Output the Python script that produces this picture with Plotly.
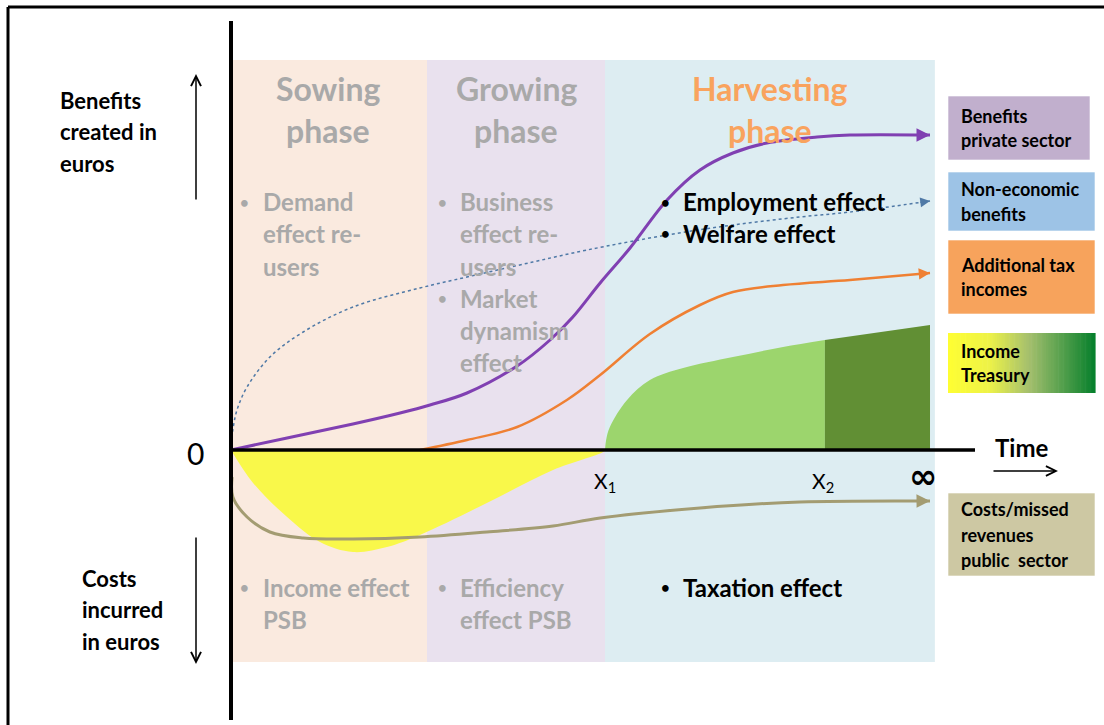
import plotly.graph_objects as go

W, H = 1104, 725

# ---------------- data (time units: X1 = 10 ; value units: euros, arbitrary) ----------------
X1, X2, INF = 10.0, 15.88, 18.69

phase_titles = [["Sowing", "phase"], ["Growing", "phase"], ["Harvesting", "phase"]]
phase_start = [0.0, 5.24, 10.0]
phase_end = [5.24, 10.0, 18.82]
phase_top, phase_bottom = 39.0, -21.2

# Benefits private sector (purple)
private_t = [0, 1.50, 3.26, 4.52, 5.32, 6.31, 7.65, 8.53, 9.14, 9.87, 10.67, 11.66, 12.54, 13.42, 14.33, 15.67, 16.55, 18.69]
private_v = [0, 1.2, 2.6, 3.7, 4.5, 5.7, 8.4, 11.0, 13.3, 16.7, 20.2, 25.0, 28.0, 29.7, 30.7, 31.3, 31.5, 31.5]

# Non-economic benefits (dotted blue)
noneco_t = [0, 0.05, 0.16, 0.43, 1.04, 1.93, 3.26, 5.05, 6.31, 8.07, 9.52, 11.66, 13.42, 15.21, 16.55, 18.69]
noneco_v = [0, 2.0, 4.0, 6.3, 9.3, 11.8, 14.3, 16.2, 17.3, 18.8, 20.0, 21.5, 22.5, 23.3, 23.8, 24.9]

# Additional tax incomes (orange)
tax_t = [5.05, 6.31, 7.65, 8.98, 9.87, 11.20, 12.54, 13.42, 14.76, 16.55, 18.69]
tax_v = [0, 1.0, 2.3, 5.0, 7.5, 11.6, 14.5, 15.8, 16.5, 17.0, 17.7]

# Costs / missed revenues public sector (khaki)
cost_t = [0.03, 0.05, 0.43, 1.04, 1.93, 3.26, 5.05, 6.84, 8.61, 9.87, 12.54, 15.21, 18.69]
cost_v = [-2.7, -4.7, -6.7, -8.2, -8.8, -8.9, -8.7, -8.2, -7.6, -6.8, -5.8, -5.2, -5.1]

# Income treasury: negative part (yellow) and positive part (greens)
yellow_t = [0, 0.59, 1.50, 2.38, 3.26, 4.17, 5.05, 6.84, 8.61, 9.95, 10.0]
yellow_v = [0, -3.3, -6.7, -9.2, -10.2, -9.7, -8.5, -5.3, -2.0, -0.2, 0]
green_t = [10.0, 10.03, 10.13, 10.59, 11.20, 12.09, 13.42, 14.76, 15.88]
green_v = [0, 1.0, 2.3, 5.0, 7.0, 8.2, 9.3, 10.3, 11.0]
dgreen_t = [15.88, 18.69]
dgreen_v = [11.0, 12.5]

legend_labels = [["Benefits", "private sector"], ["Non-economic", "benefits"],
                 ["Additional tax", "incomes"], ["Income", "Treasury"],
                 ["Costs/missed", "revenues", "public  sector"]]

# ---------------- helpers ----------------
PX_PER_T, T0 = 37.4, 231.0
PX_PER_V, V0 = 10.0, 450.0
t_range = [(0 - T0) / PX_PER_T, (W - T0) / PX_PER_T]
v_range = [(V0 - H) / PX_PER_V, (V0 - 0) / PX_PER_V]

def PX(x):
    return x / W

def PY(y):
    return 1 - y / H

FONT = "Lato, 'Open Sans', sans-serif"
GREY = "#A9A9A9"

fig = go.Figure()

# phase backgrounds
phase_fill = ["#FAEADF", "#E9E1EE", "#DDEDF2"]
for s, e, c in zip(phase_start, phase_end, phase_fill):
    fig.add_shape(type="rect", xref="x", yref="y", x0=s, x1=e, y0=phase_bottom, y1=phase_top,
                  fillcolor=c, line_width=0, layer="below")

# fills
fig.add_trace(go.Scatter(x=yellow_t, y=yellow_v, mode="lines", fill="tozeroy", fillcolor="#F9F84A",
                         line=dict(width=0, shape="spline", color="#F9F84A"), hoverinfo="skip"))
fig.add_trace(go.Scatter(x=green_t, y=green_v, mode="lines", fill="tozeroy", fillcolor="#9CD56D",
                         line=dict(width=0, shape="spline", color="#9CD56D"), hoverinfo="skip"))
fig.add_trace(go.Scatter(x=dgreen_t, y=dgreen_v, mode="lines", fill="tozeroy", fillcolor="#618F34",
                         line=dict(width=0, color="#618F34"), hoverinfo="skip"))

# curves
curves = [
    (cost_t, cost_v, "#A39C72", 3, "solid"),
    (noneco_t, noneco_v, "#4F79A6", 1.5, "dot"),
    (tax_t, tax_v, "#EF8033", 2.5, "solid"),
    (private_t, private_v, "#8040B2", 3, "solid"),
]
for tt, vv, col, wd, dash in curves:
    fig.add_trace(go.Scatter(x=tt, y=vv, mode="lines",
                             line=dict(color=col, width=wd, dash=dash, shape="spline", smoothing=1.0),
                             hoverinfo="skip"))
    slope = (vv[-1] - vv[-2]) / (tt[-1] - tt[-2])
    fig.add_annotation(x=tt[-1], y=vv[-1], ax=tt[-1] - 0.3, ay=vv[-1] - slope * 0.3,
                       xref="x", yref="y", axref="x", ayref="y", showarrow=True, arrowhead=2,
                       arrowsize=1.3 if wd < 2 else 0.9, arrowwidth=max(wd, 1.5), arrowcolor=col, text="")

# axes lines
fig.add_shape(type="line", xref="x", yref="paper", x0=0, x1=0, y0=PY(720), y1=PY(21),
              line=dict(color="black", width=4))
fig.add_shape(type="line", xref="x", yref="y", x0=0, x1=(975 - T0) / PX_PER_T, y0=0, y1=0,
              line=dict(color="black", width=3.5))

# outer frame
fig.add_shape(type="line", xref="paper", yref="paper", x0=PX(8), x1=1, y0=PY(7), y1=PY(7),
              line=dict(color="black", width=3))
fig.add_shape(type="line", xref="paper", yref="paper", x0=PX(8), x1=PX(8), y0=PY(7), y1=0,
              line=dict(color="black", width=3))

def txt(s, x, y, size, color="black", bold=True, anchor="left", xref="paper"):
    fig.add_annotation(text=("<b>%s</b>" % s) if bold else s, x=x if xref == "x" else PX(x), y=PY(y),
                       xref=xref, yref="paper", showarrow=False, xanchor=anchor, yanchor="middle",
                       font=dict(family=FONT, size=size, color=color))

# left labels + arrows
for i, s in enumerate(["Benefits", "created in", "euros"]):
    txt(s, 58, 100 + i * 31.5, 22)
for i, s in enumerate(["Costs", "incurred", "in euros"]):
    txt(s, 80, 578 + i * 31.5, 22)
fig.add_annotation(x=PX(196), y=PY(74), ax=0, ay=127, xref="paper", yref="paper", showarrow=True,
                   arrowhead=5, arrowsize=1.3, arrowwidth=1.5, arrowcolor="black", text="")
fig.add_annotation(x=PX(196), y=PY(664), ax=0, ay=-128, xref="paper", yref="paper", showarrow=True,
                   arrowhead=5, arrowsize=1.3, arrowwidth=1.5, arrowcolor="black", text="")
txt("0", 195, 453, 30, bold=False, anchor="center")

# time label and arrow
txt("Time", 993, 447, 24)
fig.add_annotation(x=PX(1058), y=PY(471), ax=-66, ay=0, xref="paper", yref="paper", showarrow=True,
                   arrowhead=5, arrowsize=1.3, arrowwidth=1.5, arrowcolor="black", text="")

# tick labels
fig.add_annotation(text="X<sub>1</sub>", x=X1, y=PY(482), xref="x", yref="paper", showarrow=False,
                   font=dict(family=FONT, size=21, color="black"), xanchor="center", yanchor="middle")
fig.add_annotation(text="X<sub>2</sub>", x=X2 - 0.05, y=PY(482), xref="x", yref="paper", showarrow=False,
                   font=dict(family=FONT, size=21, color="black"), xanchor="center", yanchor="middle")
fig.add_annotation(text="<b>∞</b>", x=INF - 0.2, y=PY(476), xref="x", yref="paper", showarrow=False,
                   font=dict(family="DejaVu Sans", size=34, color="black"), xanchor="center", yanchor="middle")

# phase titles
title_cx = [328, 516, 770]
title_col = [GREY, GREY, "#F9A35E"]
for (a, b), cx, col in zip(phase_titles, title_cx, title_col):
    txt(a, cx, 88, 32, col, anchor="center")
    txt(b, cx, 131, 32, col, anchor="center")

# bullet blocks
def bullet_block(lines, xb, y0, col, step=32):
    txt("•", xb, y0, 15, col, anchor="center")
    for i, s in enumerate(lines):
        txt(s, xb + 16, y0 + i * step, 24, col)

bullet_block(["Demand", "effect re-", "users"], 245, 202, GREY)
bullet_block(["Business", "effect re-", "users"], 442, 202, GREY)
bullet_block(["Market", "dynamism", "effect"], 442, 298, GREY)
bullet_block(["Income effect", "PSB"], 245, 587, GREY)
bullet_block(["Efficiency", "effect PSB"], 442, 587, GREY)
bullet_block(["Employment effect"], 665, 202, "black")
bullet_block(["Welfare effect"], 665, 233, "black")
bullet_block(["Taxation effect"], 665, 587, "black")

# legend boxes
boxes = [(948, 1090, 96, 160, "#C1AFCD"), (948, 1095, 172, 231, "#9DC3E6"),
         (948, 1095, 240, 314, "#F7A35C"), (948, 1095, 333, 393, None),
         (948, 1095, 493, 576, "#CDC8A3")]
for (x0, x1, y0, y1, col), lines in zip(boxes, legend_labels):
    if col is None:
        stops = [(0.0, (255, 255, 51)), (0.28, (238, 243, 72)), (0.55, (165, 192, 110)), (1.0, (6, 128, 44))]
        n = 60
        for k in range(n):
            f = (k + 0.5) / n
            for j in range(len(stops) - 1):
                if stops[j][0] <= f <= stops[j + 1][0]:
                    a, ca = stops[j]
                    b, cb = stops[j + 1]
                    u = (f - a) / (b - a)
                    rgb = tuple(int(ca[m] + (cb[m] - ca[m]) * u) for m in range(3))
                    break
            xa = x0 + (x1 - x0) * k / n
            xb = x0 + (x1 - x0) * (k + 1) / n + 0.6
            fig.add_shape(type="rect", xref="paper", yref="paper", x0=PX(xa), x1=PX(xb), y0=PY(y1), y1=PY(y0),
                          fillcolor="rgb(%d,%d,%d)" % rgb, line_width=0, layer="below")
    else:
        fig.add_shape(type="rect", xref="paper", yref="paper", x0=PX(x0), x1=PX(x1), y0=PY(y1), y1=PY(y0),
                      fillcolor=col, line=dict(color="rgba(255,255,255,0.6)", width=1), layer="below")
    nl = len(lines)
    step = 25.5 if nl == 3 else 24.5
    cy = (y0 + y1) / 2
    for i, s in enumerate(lines):
        txt(s, 959, cy + (i - (nl - 1) / 2) * step, 18)

fig.update_layout(
    width=W, height=H, margin=dict(l=0, r=0, t=0, b=0),
    paper_bgcolor="white", plot_bgcolor="white", showlegend=False,
    xaxis=dict(range=t_range, visible=False, fixedrange=True),
    yaxis=dict(range=v_range, visible=False, fixedrange=True),
)
fig.write_html("out.html", config={"displayModeBar": False},
               post_script="document.body.style.margin='0px';document.body.style.padding='0px';")
